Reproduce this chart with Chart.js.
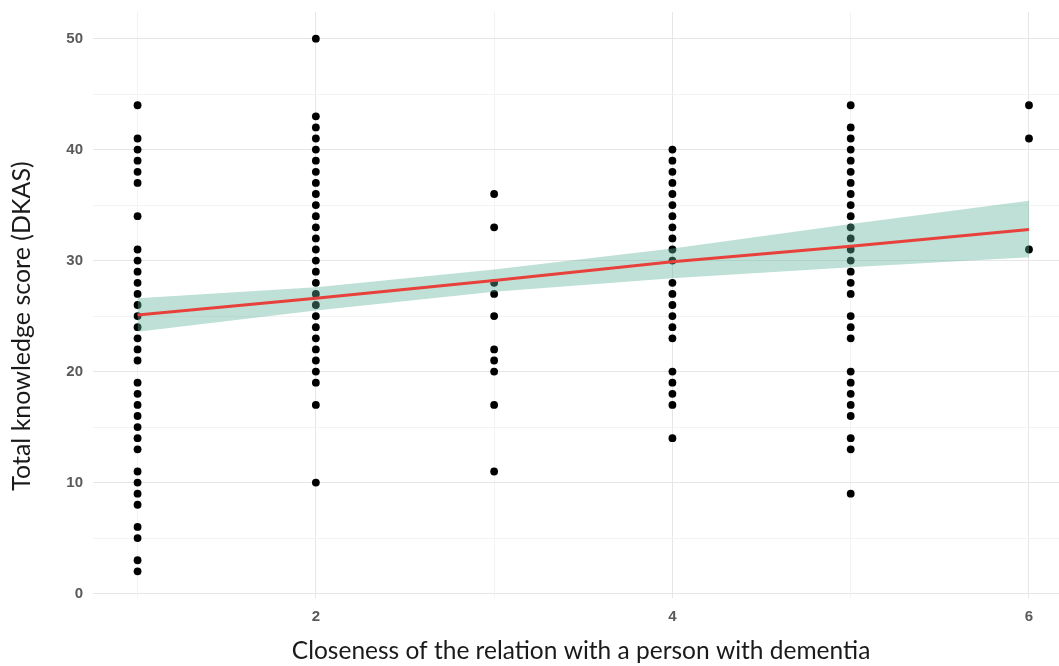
<!DOCTYPE html>
<html>
<head>
<meta charset="utf-8">
<script src="https://cdn.jsdelivr.net/npm/chart.js@4.4.1/dist/chart.umd.min.js"></script>
<style>
  html, body { margin: 0; padding: 0; background: #fff; overflow: hidden; }
  #wrap { width: 1073px; height: 666px; position: relative; }
</style>
</head>
<body>
<div id="wrap"><canvas id="chart"></canvas></div>
<script>
// DKAS scores, one list per closeness level
var closeness = [1, 2, 3, 4, 5, 6];
var scoresAt1 = [44, 41, 40, 39, 38, 37, 34, 31, 30, 29, 28, 27, 26, 25, 24, 23, 22, 21, 19, 18, 17, 16, 15, 14, 13, 11, 10, 9, 8, 6, 5, 3, 2];
var scoresAt2 = [50, 43, 42, 41, 40, 39, 38, 37, 36, 35, 34, 33, 32, 31, 30, 29, 28, 27, 26, 25, 24, 23, 22, 21, 20, 19, 17, 10];
var scoresAt3 = [36, 33, 28, 27, 25, 22, 21, 20, 17, 11];
var scoresAt4 = [40, 39, 38, 37, 36, 35, 34, 33, 32, 31, 30, 28, 27, 26, 25, 24, 23, 20, 19, 18, 17, 14];
var scoresAt5 = [44, 42, 41, 40, 39, 38, 37, 36, 35, 34, 33, 32, 31, 30, 29, 28, 27, 25, 24, 23, 20, 19, 18, 17, 16, 14, 13, 9];
var scoresAt6 = [44, 41, 31];

// fitted line and its confidence band (read at each closeness level)
var fitLine   = [25.1, 26.6, 28.2, 29.9, 31.3, 32.8];
var bandUpper = [26.6, 27.6, 29.2, 31.1, 33.3, 35.4];
var bandLower = [23.6, 25.5, 27.2, 28.4, 29.4, 30.3];

var yTicks = [0, 5, 10, 15, 20, 25, 30, 35, 40, 45, 50];
var xTicks = [1, 2, 3, 4, 5, 6];
var yTitle = 'Total knowledge score (DKAS)';
var xTitle = 'Closeness of the relation with a person with dementia';

var allScores = [scoresAt1, scoresAt2, scoresAt3, scoresAt4, scoresAt5, scoresAt6];
var points = [];
for (var i = 0; i < closeness.length; i++) {
  for (var j = 0; j < allScores[i].length; j++) {
    points.push({x: closeness[i], y: allScores[i][j]});
  }
}
function pairs(vals) {
  return closeness.map(function(c, k) { return {x: c, y: vals[k]}; });
}

var tickFont = {family: "'Liberation Sans', Arial, sans-serif", size: 15, weight: 'bold'};
var titleFont = {family: "Lato, 'Open Sans', sans-serif", size: 24.5};

// y title drawn by hand so it can sit a little below the plot centre, as in the original
var yTitlePlugin = {
  id: 'yTitle',
  afterDraw: function(chart) {
    var ctx = chart.ctx;
    ctx.save();
    ctx.translate(22, 326);
    ctx.rotate(-Math.PI / 2);
    ctx.font = "25px Lato, 'Open Sans', sans-serif";
    ctx.fillStyle = '#1a1a1a';
    ctx.textAlign = 'center';
    ctx.textBaseline = 'middle';
    ctx.fillText(yTitle, 0, 0);
    ctx.restore();
  }
};

new Chart(document.getElementById('chart'), {
  type: 'scatter',
  data: {
    datasets: [
      {
        label: 'scores', data: points, order: 3,
        pointRadius: 3.9, pointHoverRadius: 3.9,
        backgroundColor: '#000', borderColor: '#000', borderWidth: 0
      },
      {
        type: 'line', label: 'lower', data: pairs(bandLower), order: 2,
        pointRadius: 0, borderWidth: 0, borderColor: 'rgba(0,0,0,0)', fill: false
      },
      {
        type: 'line', label: 'upper', data: pairs(bandUpper), order: 2,
        pointRadius: 0, borderWidth: 0, borderColor: 'rgba(0,0,0,0)',
        fill: '-1', backgroundColor: 'rgba(95,178,153,0.4)'
      },
      {
        type: 'line', label: 'fit', data: pairs(fitLine), order: 1,
        pointRadius: 0, borderWidth: 3, borderColor: '#e8413c', fill: false
      }
    ]
  },
  plugins: [yTitlePlugin],
  options: {
    responsive: true,
    maintainAspectRatio: false,
    animation: false,
    layout: {padding: {top: 12}},
    plugins: {legend: {display: false}, tooltip: {enabled: false}},
    scales: {
      x: {
        type: 'linear', min: 0.75, max: 6.225,
        afterBuildTicks: function(s) { s.ticks = xTicks.map(function(v) { return {value: v}; }); },
        afterFit: function(s) { s.height = 68; s.paddingLeft = 0; s.paddingRight = 0; },
        border: {display: false},
        grid: {
          drawTicks: false, lineWidth: 1,
          color: function(c) { return c.tick && c.tick.value % 2 === 0 ? '#e6e6e6' : '#f3f3f3'; }
        },
        ticks: {
          padding: 10, color: '#5a5a5a', font: tickFont, maxRotation: 0,
          callback: function(v) { return v % 2 === 0 ? v : ''; }
        },
        title: {display: true, text: xTitle, color: '#1a1a1a', font: titleFont, padding: {top: 0, bottom: 0}}
      },
      y: {
        type: 'linear', min: -0.4, max: 52.4,
        afterBuildTicks: function(s) { s.ticks = yTicks.map(function(v) { return {value: v}; }); },
        afterFit: function(s) { s.width = 93; s.paddingTop = 0; s.paddingBottom = 0; },
        border: {display: false},
        grid: {
          drawTicks: false, lineWidth: 1,
          color: function(c) { return c.tick && c.tick.value % 10 === 0 ? '#e6e6e6' : '#f3f3f3'; }
        },
        ticks: {
          padding: 10, color: '#5a5a5a', font: tickFont,
          callback: function(v) { return v % 10 === 0 ? v : ''; }
        }
      }
    }
  }
});
</script>
</body>
</html>
